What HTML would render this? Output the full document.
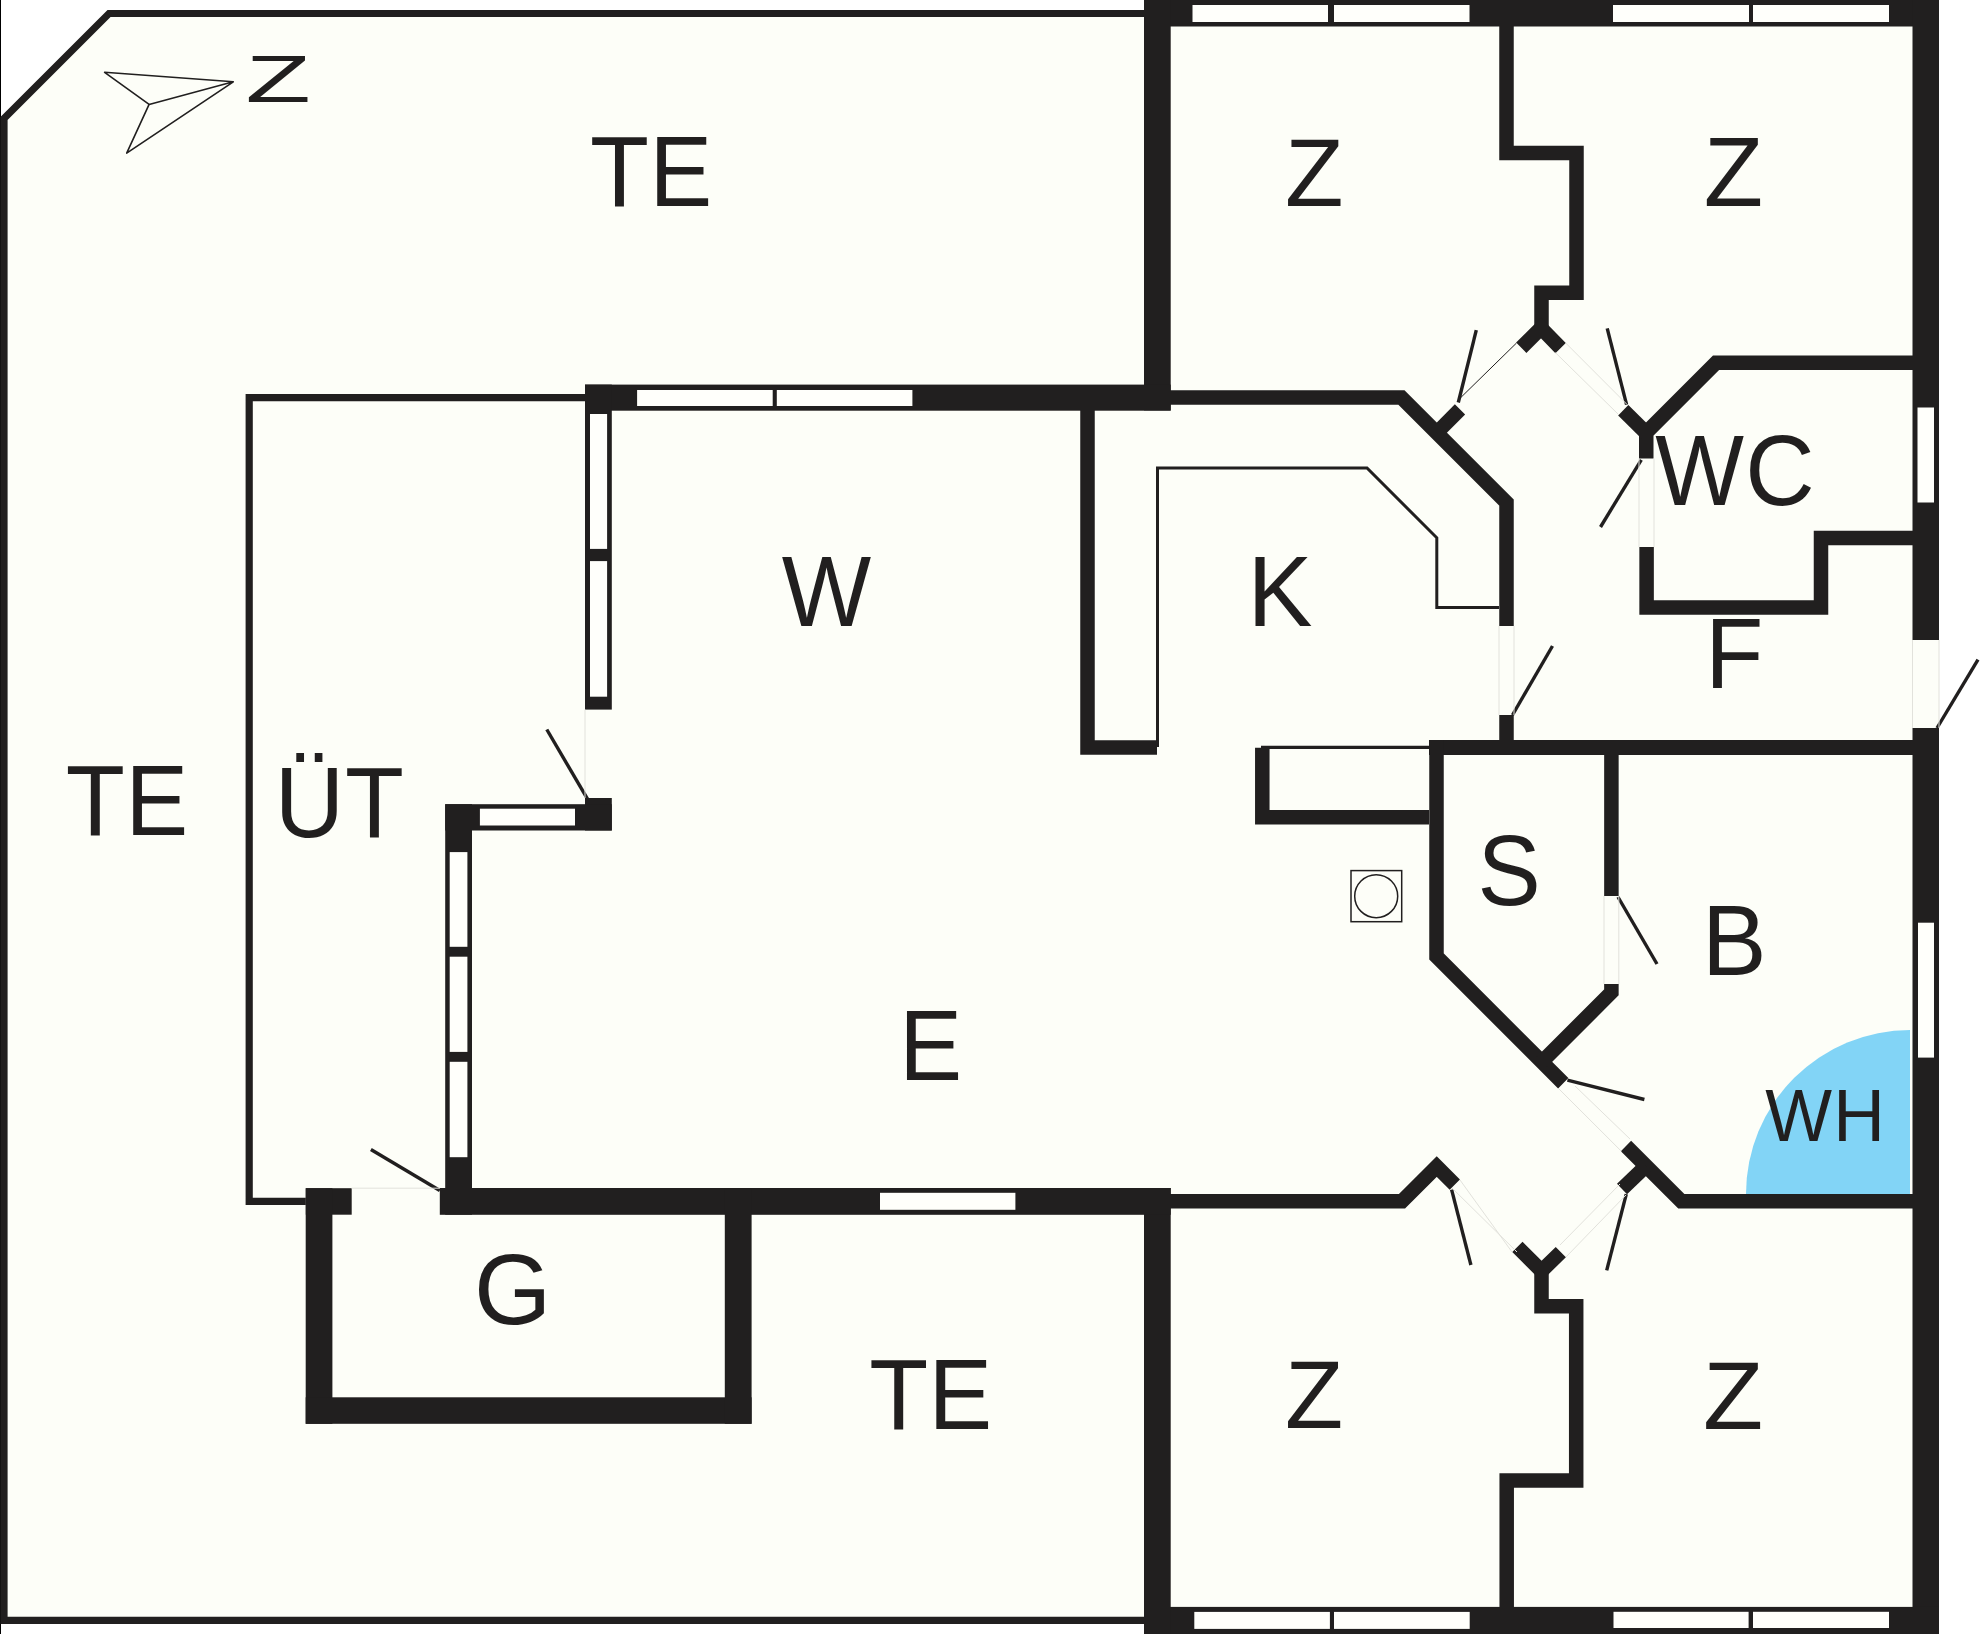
<!DOCTYPE html><html><head><meta charset="utf-8"><style>html,body{margin:0;padding:0;background:#fff;overflow:hidden}svg{display:block}</style></head><body>
<svg width="1980" height="1634" viewBox="0 0 1980 1634">
<rect width="1980" height="1634" fill="#fff"/>
<rect x="0" y="0" width="1" height="1634" fill="#000"/>
<path d="M4,1620.3 L4,118.5 L109,13.5 L1160,13.5 L1160,1620.3 Z" fill="#fdfef8" stroke="#211f1f" stroke-width="7.2" stroke-linejoin="miter"/>
<rect x="1144" y="0" width="795" height="1634" fill="#fdfef8"/>
<path d="M305.8,1201.4 L249.2,1201.4 L249.2,397.6 L585,397.6" fill="none" stroke="#211f1f" stroke-width="7.2" stroke-linejoin="miter"/>
<path d="M1910,1194 L1746,1194 A164,164 0 0 1 1910,1030 Z" fill="#82d4f6"/>
<rect x="1144" y="0" width="795.00" height="26.50" fill="#211f1f"/>
<rect x="1912.5" y="0" width="26.50" height="640.00" fill="#211f1f"/>
<rect x="1912.5" y="728" width="26.50" height="906.00" fill="#211f1f"/>
<rect x="1144" y="1606.9" width="795.00" height="27.10" fill="#211f1f"/>
<rect x="1144" y="0" width="26.70" height="410.40" fill="#211f1f"/>
<rect x="1144" y="1188" width="26.70" height="446.00" fill="#211f1f"/>
<rect x="585" y="384.6" width="585.70" height="26.10" fill="#211f1f"/>
<rect x="585" y="384.6" width="26.80" height="325.00" fill="#211f1f"/>
<rect x="585" y="798" width="26.80" height="32.50" fill="#211f1f"/>
<rect x="445.2" y="804.2" width="166.60" height="26.30" fill="#211f1f"/>
<rect x="445.2" y="804.2" width="26.80" height="410.50" fill="#211f1f"/>
<rect x="439.8" y="1188" width="730.90" height="26.80" fill="#211f1f"/>
<rect x="305.8" y="1188.2" width="45.90" height="26.50" fill="#211f1f"/>
<rect x="305.7" y="1188.2" width="26.70" height="235.60" fill="#211f1f"/>
<rect x="305.7" y="1397.3" width="445.90" height="26.50" fill="#211f1f"/>
<rect x="724.8" y="1188.2" width="26.80" height="235.60" fill="#211f1f"/>
<rect x="1192.5" y="5" width="135.50" height="17.00" fill="#fffffb"/>
<rect x="1334" y="5" width="135.50" height="17.00" fill="#fffffb"/>
<rect x="1613" y="5" width="136.00" height="17.00" fill="#fffffb"/>
<rect x="1753" y="5" width="136.00" height="17.00" fill="#fffffb"/>
<rect x="1194.3" y="1611.9" width="135.60" height="17.00" fill="#fffffb"/>
<rect x="1334" y="1611.9" width="135.70" height="17.00" fill="#fffffb"/>
<rect x="1613.5" y="1611.8" width="135.10" height="16.20" fill="#fffffb"/>
<rect x="1753" y="1611.8" width="136.00" height="16.20" fill="#fffffb"/>
<rect x="637.1" y="390" width="135.60" height="16.00" fill="#fffffb"/>
<rect x="776.8" y="390" width="135.60" height="16.00" fill="#fffffb"/>
<rect x="590" y="414" width="17.10" height="134.90" fill="#fffffb"/>
<rect x="590" y="561.1" width="17.10" height="135.60" fill="#fffffb"/>
<rect x="479.9" y="808.7" width="95.10" height="16.80" fill="#fffffb"/>
<rect x="449.7" y="852.1" width="17.70" height="94.70" fill="#fffffb"/>
<rect x="449.7" y="956.7" width="17.70" height="95.20" fill="#fffffb"/>
<rect x="449.7" y="1061.8" width="17.70" height="95.40" fill="#fffffb"/>
<rect x="880" y="1192.8" width="135.40" height="17.00" fill="#fffffb"/>
<rect x="1917.5" y="407.5" width="16.50" height="95.00" fill="#fffffb"/>
<rect x="1918" y="922.7" width="16.00" height="134.90" fill="#fffffb"/>
<path d="M1170,397.5 L1401.5,397.5 L1506.5,502.5 L1506.5,626" fill="none" stroke="#211f1f" stroke-width="14.5" stroke-linejoin="miter" stroke-miterlimit="10" stroke-linecap="butt"/>
<path d="M1087.5,410 L1087.5,747.4 L1157,747.4" fill="none" stroke="#211f1f" stroke-width="14.5" stroke-linejoin="miter" stroke-miterlimit="10" stroke-linecap="butt"/>
<path d="M1506.5,715 L1506.5,748" fill="none" stroke="#211f1f" stroke-width="14.5" stroke-linejoin="miter" stroke-miterlimit="10" stroke-linecap="butt"/>
<path d="M1429,747.5 L1913,747.5" fill="none" stroke="#211f1f" stroke-width="15" stroke-linejoin="miter" stroke-miterlimit="10" stroke-linecap="butt"/>
<path d="M1262.3,747.7 L1262.3,817.2 L1429,817.2" fill="none" stroke="#211f1f" stroke-width="14.5" stroke-linejoin="miter" stroke-miterlimit="10" stroke-linecap="butt"/>
<path d="M1436.5,740 L1436.5,956.5 L1563.25,1083.25" fill="none" stroke="#211f1f" stroke-width="14.5" stroke-linejoin="miter" stroke-miterlimit="10" stroke-linecap="butt"/>
<path d="M1611.4,755 L1611.4,896" fill="none" stroke="#211f1f" stroke-width="14.5" stroke-linejoin="miter" stroke-miterlimit="10" stroke-linecap="butt"/>
<path d="M1611.4,984 L1611.4,992.35 L1541.9,1061.9" fill="none" stroke="#211f1f" stroke-width="14.5" stroke-linejoin="miter" stroke-miterlimit="10" stroke-linecap="butt"/>
<path d="M1626,1146 L1681.25,1201.25 L1913,1201.25" fill="none" stroke="#211f1f" stroke-width="14.5" stroke-linejoin="miter" stroke-miterlimit="10" stroke-linecap="butt"/>
<path d="M1646,1166 L1622,1189" fill="none" stroke="#211f1f" stroke-width="14.5" stroke-linejoin="miter" stroke-miterlimit="10" stroke-linecap="butt"/>
<path d="M1517.4,1246.9 L1541.5,1271 L1560.8,1252.05" fill="none" stroke="#211f1f" stroke-width="14.5" stroke-linejoin="miter" stroke-miterlimit="10" stroke-linecap="butt"/>
<path d="M1541.5,1271 L1541.5,1306.25 L1576.2,1306.25 L1576.2,1480.5 L1506.7,1480.5 L1506.7,1607" fill="none" stroke="#211f1f" stroke-width="14.5" stroke-linejoin="miter" stroke-miterlimit="10" stroke-linecap="butt"/>
<path d="M1170,1201.25 L1402.05,1201.25 L1436.75,1166.55 L1454.8,1184.6" fill="none" stroke="#211f1f" stroke-width="14.5" stroke-linejoin="miter" stroke-miterlimit="10" stroke-linecap="butt"/>
<path d="M1506.5,26 L1506.5,153 L1576.5,153 L1576.5,292.75 L1541.5,292.75 L1541.5,328" fill="none" stroke="#211f1f" stroke-width="14.5" stroke-linejoin="miter" stroke-miterlimit="10" stroke-linecap="butt"/>
<path d="M1521.25,347.75 L1541,328 L1560.6,348.1" fill="none" stroke="#211f1f" stroke-width="14.5" stroke-linejoin="miter" stroke-miterlimit="10" stroke-linecap="butt"/>
<path d="M1436.75,432.75 L1460,409.45" fill="none" stroke="#211f1f" stroke-width="14.5" stroke-linejoin="miter" stroke-miterlimit="10" stroke-linecap="butt"/>
<path d="M1913,362.75 L1716,362.75 L1646.25,432.5 L1646.25,458.6" fill="none" stroke="#211f1f" stroke-width="14.5" stroke-linejoin="miter" stroke-miterlimit="10" stroke-linecap="butt"/>
<path d="M1646.25,433 L1623.25,410.25" fill="none" stroke="#211f1f" stroke-width="14.5" stroke-linejoin="miter" stroke-miterlimit="10" stroke-linecap="butt"/>
<path d="M1646.6,547 L1646.6,607.5 L1821,607.5 L1821,538 L1913,538" fill="none" stroke="#211f1f" stroke-width="14.5" stroke-linejoin="miter" stroke-miterlimit="10" stroke-linecap="butt"/>
<path d="M1157.5,747 L1157.5,468 L1367,468 L1436.8,537.8 L1436.8,607.5 L1499,607.5" fill="none" stroke="#211f1f" stroke-width="3" stroke-linejoin="miter" stroke-linecap="butt"/>
<path d="M1261,747.4 L1429,747.4" fill="none" stroke="#211f1f" stroke-width="3.3" stroke-linejoin="miter" stroke-linecap="butt"/>
<line x1="1458.3" y1="402.5" x2="1476.3" y2="330.1" stroke="#211f1f" stroke-width="3.4"/>
<line x1="1626.6" y1="404.7" x2="1607.2" y2="328.4" stroke="#211f1f" stroke-width="3.4"/>
<line x1="1641.3" y1="459.8" x2="1600.5" y2="527" stroke="#211f1f" stroke-width="3.4"/>
<line x1="1512.5" y1="715" x2="1552.5" y2="646" stroke="#211f1f" stroke-width="3.4"/>
<line x1="1937" y1="728" x2="1978" y2="659.7" stroke="#211f1f" stroke-width="3.4"/>
<line x1="587.6" y1="799.2" x2="546.8" y2="729.5" stroke="#211f1f" stroke-width="3.4"/>
<line x1="439.8" y1="1190.5" x2="370.9" y2="1149.5" stroke="#211f1f" stroke-width="3.4"/>
<line x1="1618" y1="897" x2="1657" y2="964" stroke="#211f1f" stroke-width="3.4"/>
<line x1="1567.4" y1="1080.2" x2="1644.4" y2="1099.5" stroke="#211f1f" stroke-width="3.4"/>
<line x1="1451.6" y1="1189.6" x2="1470.9" y2="1265" stroke="#211f1f" stroke-width="3.4"/>
<line x1="1626.3" y1="1194.2" x2="1606.7" y2="1270.3" stroke="#211f1f" stroke-width="3.4"/>
<line x1="1460" y1="398.3" x2="1516.5" y2="343" stroke="#211f1f" stroke-width="1"/>
<line x1="1555.4" y1="352.6" x2="1618.5" y2="414.5" stroke="#e2e2dc" stroke-width="1"/>
<line x1="1565.7" y1="343" x2="1626.6" y2="404" stroke="#e2e2dc" stroke-width="1"/>
<line x1="1558.5" y1="1088.5" x2="1621.3" y2="1151.2" stroke="#e2e2dc" stroke-width="1"/>
<line x1="1575" y1="1086" x2="1630" y2="1139" stroke="#e2e2dc" stroke-width="1"/>
<line x1="1460" y1="1180" x2="1512" y2="1252" stroke="#e2e2dc" stroke-width="1"/>
<line x1="1452" y1="1188" x2="1517" y2="1252" stroke="#e2e2dc" stroke-width="1"/>
<line x1="1560" y1="1245" x2="1620" y2="1184" stroke="#e2e2dc" stroke-width="1"/>
<line x1="1566" y1="1257" x2="1626" y2="1195" stroke="#e2e2dc" stroke-width="1"/>
<line x1="1912.5" y1="640" x2="1912.5" y2="728" stroke="#e2e2dc" stroke-width="1"/>
<line x1="1939" y1="640" x2="1939" y2="728" stroke="#e2e2dc" stroke-width="1"/>
<line x1="1499" y1="626" x2="1499" y2="715" stroke="#e2e2dc" stroke-width="1"/>
<line x1="1514" y1="626" x2="1514" y2="715" stroke="#e2e2dc" stroke-width="1"/>
<line x1="1604" y1="896" x2="1604" y2="984" stroke="#e2e2dc" stroke-width="1"/>
<line x1="1618.8" y1="896" x2="1618.8" y2="984" stroke="#e2e2dc" stroke-width="1"/>
<line x1="1639" y1="458.6" x2="1639" y2="547" stroke="#e2e2dc" stroke-width="1"/>
<line x1="1654" y1="458.6" x2="1654" y2="547" stroke="#e2e2dc" stroke-width="1"/>
<line x1="585" y1="709.6" x2="585" y2="798" stroke="#e2e2dc" stroke-width="1"/>
<line x1="351.7" y1="1188.2" x2="439.8" y2="1188.2" stroke="#e2e2dc" stroke-width="1"/>
<rect x="1351" y="870.6" width="50.7" height="51.1" fill="none" stroke="#211f1f" stroke-width="1.5"/>
<circle cx="1376.2" cy="896.2" r="21.5" fill="none" stroke="#211f1f" stroke-width="1.5"/>
<path d="M104.6,72.3 L233.3,81.8 L126.7,153.1 L149.1,104.4 Z M104.6,72.3 L149.1,104.4 L233.3,81.8" fill="none" stroke="#211f1f" stroke-width="1.6" stroke-linejoin="round"/>
<g fill="#211f1f" style="font-family:'Liberation Sans',sans-serif;font-size:100px">
<text transform="matrix(1.0695 0 0 0.6657 245.51 102.00)">Z</text>
<text transform="matrix(0.9657 0 0 1.0015 589.93 206.30)">T</text>
<text transform="matrix(0.9391 0 0 1.0015 649.50 206.30)">E</text>
<text transform="matrix(0.9582 0 0 0.9651 1285.06 205.70)">Z</text>
<text transform="matrix(0.9719 0 0 0.9738 1703.67 206.25)">Z</text>
<text transform="matrix(0.9476 0 0 1.0015 781.78 625.80)">W</text>
<text transform="matrix(0.9742 0 0 1.0073 1247.61 626.20)">K</text>
<text transform="matrix(0.9402 0 0 1.0000 1655.19 504.90)">W</text>
<text transform="matrix(0.9616 0 0 1.0102 1745.21 505.40)">C</text>
<text transform="matrix(0.9513 0 0 0.9993 1705.20 687.50)">F</text>
<text transform="matrix(0.9692 0 0 0.9971 65.72 834.80)">T</text>
<text transform="matrix(0.9391 0 0 0.9971 125.50 834.80)">E</text>
<text transform="matrix(0.9614 0 0 0.9927 274.69 836.60)">Ü</text>
<text transform="matrix(0.9639 0 0 0.9927 345.03 836.60)">T</text>
<text transform="matrix(0.9484 0 0 1.0044 1477.49 905.00)">S</text>
<text transform="matrix(0.9675 0 0 1.0044 1701.97 974.80)">B</text>
<text transform="matrix(0.9428 0 0 1.0000 899.17 1079.80)">E</text>
<text transform="matrix(0.7073 0 0 0.7500 1765.19 1140.80)">W</text>
<text transform="matrix(0.7143 0 0 0.7500 1833.34 1140.80)">H</text>
<text transform="matrix(0.9942 0 0 1.0073 473.90 1324.30)">G</text>
<text transform="matrix(0.9657 0 0 1.0015 869.23 1428.90)">T</text>
<text transform="matrix(0.9539 0 0 1.0015 928.48 1428.90)">E</text>
<text transform="matrix(0.9527 0 0 0.9593 1285.08 1427.90)">Z</text>
<text transform="matrix(0.9856 0 0 0.9680 1702.88 1428.60)">Z</text>
</g>
</svg></body></html>
